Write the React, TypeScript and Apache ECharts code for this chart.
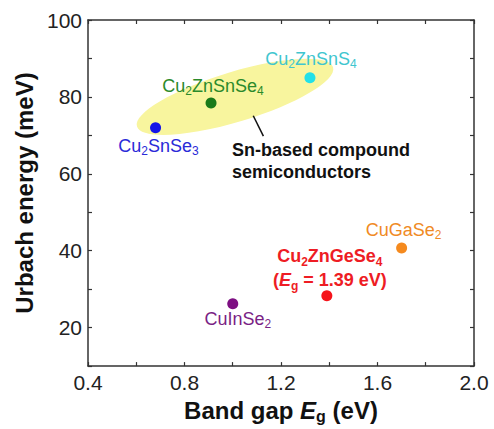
import React, { useEffect, useRef } from "react";
import * as echarts from "echarts";

const compounds = ["Cu2SnSe3", "Cu2ZnSnSe4", "Cu2ZnSnS4", "CuInSe2", "Cu2ZnGeSe4", "CuGaSe2"];
const bandGaps = [0.68, 0.91, 1.32, 1.0, 1.39, 1.7];
const urbachEnergies = [72.0, 78.4, 85.0, 26.2, 28.3, 40.7];
const pointColors = ["#1414e8", "#1a7a1a", "#22e0e8", "#7d0f82", "#f5141b", "#f58a1e"];
const labelColors = ["#2a2ad8", "#2b8a2b", "#3fc6cf", "#7a1f85", "#ee1c24", "#f08a24"];
const labelTexts = [
  "{n|Cu}{s|2}{n|SnSe}{s|3}",
  "{n|Cu}{s|2}{n|ZnSnSe}{s|4}",
  "{n|Cu}{s|2}{n|ZnSnS}{s|4}",
  "{n|CuInSe}{s|2}",
  "{b|Cu}{bs|2}{b|ZnGeSe}{bs|4}\n{b|(}{bi|E}{bs|g}{b| = 1.39 eV)}",
  "{n|CuGaSe}{s|2}",
];

const xTickLabels = ["0.4", "0.8", "1.2", "1.6", "2.0"];
const yTickLabels = ["20", "40", "60", "80", "100"];

// annotation anchors in data coordinates
const ellipseEnds = [
  [0.603, 72.3],
  [1.416, 87.7],
];
const pointerLine = [
  [1.085, 75.1],
  [1.127, 69.8],
];
const noteAnchor = [0.997, 69.0];
const noteText = "Sn-based compound\nsemiconductors";

const FONT = "'Liberation Sans', Arial, Helvetica, sans-serif";

const labelLayouts: any[] = [
  { position: "bottom", distance: 2, offset: [3, 0] },
  { position: "top", distance: 1, offset: [2, 0] },
  { position: "top", distance: 2, offset: [1, 0] },
  { position: "bottom", distance: -1, offset: [5, 0] },
  { position: "top", distance: 0, offset: [3, 2] },
  { position: "top", distance: 2, offset: [2, 0] },
];

function richFor(color: string) {
  return {
    n: { fontSize: 18, lineHeight: 22, color, fontFamily: FONT, verticalAlign: "middle" },
    s: { fontSize: 12, lineHeight: 8, color, fontFamily: FONT, verticalAlign: "bottom" },
    b: { fontSize: 18, lineHeight: 24, color, fontFamily: FONT, fontWeight: "bold", verticalAlign: "middle" },
    bi: { fontSize: 18, lineHeight: 24, color, fontFamily: FONT, fontWeight: "bold", fontStyle: "italic", verticalAlign: "middle" },
    bs: { fontSize: 12, lineHeight: 9, color, fontFamily: FONT, fontWeight: "bold", verticalAlign: "bottom" },
  };
}

export default function App() {
  const ref = useRef<HTMLDivElement>(null);

  useEffect(() => {
    if (!ref.current) return;
    const chart = echarts.init(ref.current, undefined, { renderer: "svg" });

    const axisLine = { show: true, onZero: false, lineStyle: { color: "#333", width: 1.5 } };
    const axisTick = { show: true, inside: true, length: 4, lineStyle: { color: "#333", width: 1.2 } };

    const scatterData = compounds.map((name, i) => ({
      name,
      value: [bandGaps[i], urbachEnergies[i]],
      itemStyle: { color: pointColors[i], opacity: 1 },
      label: {
        show: true,
        formatter: labelTexts[i],
        align: "center",
        rich: richFor(labelColors[i]),
        ...labelLayouts[i],
      },
    }));

    chart.setOption({
      animation: false,
      grid: { left: 88, right: 20, top: 20, bottom: 61 },
      xAxis: [
        {
          type: "value",
          position: "bottom",
          min: 0.4,
          max: 2.0,
          interval: 0.2,
          axisLine,
          axisTick,
          splitLine: { show: false },
          axisLabel: {
            margin: 6,
            fontSize: 21,
            color: "#222",
            fontFamily: FONT,
            formatter: (v: number) => {
              const s = v.toFixed(1);
              return xTickLabels.includes(s) ? s : "";
            },
          },
          name: "{t|Band gap }{ti|E}{ts|g}{t| (eV)}",
          nameLocation: "middle",
          nameGap: 29,
          nameTextStyle: {
            rich: {
              t: { fontSize: 24, fontWeight: "bold", color: "#111", fontFamily: FONT, lineHeight: 28, verticalAlign: "middle" },
              ti: { fontSize: 24, fontWeight: "bold", fontStyle: "italic", color: "#111", fontFamily: FONT, lineHeight: 28, verticalAlign: "middle" },
              ts: { fontSize: 16, fontWeight: "bold", color: "#111", fontFamily: FONT, lineHeight: 11, verticalAlign: "bottom" },
            },
          },
        },
        {
          type: "value",
          position: "top",
          min: 0.4,
          max: 2.0,
          interval: 0.2,
          axisLine,
          axisTick,
          splitLine: { show: false },
          axisLabel: { show: false },
        },
      ],
      yAxis: [
        {
          type: "value",
          position: "left",
          min: 10,
          max: 100,
          interval: 10,
          axisLine,
          axisTick,
          splitLine: { show: false },
          axisLabel: {
            margin: 6,
            fontSize: 21,
            color: "#222",
            fontFamily: FONT,
            formatter: (v: number) => {
              const s = String(Math.round(v));
              return yTickLabels.includes(s) ? s : "";
            },
          },
          name: "Urbach energy (meV)",
          nameLocation: "middle",
          nameGap: 46,
          nameTextStyle: { fontSize: 24, fontWeight: "bold", color: "#111", fontFamily: FONT },
        },
        {
          type: "value",
          position: "right",
          min: 10,
          max: 100,
          interval: 10,
          axisLine,
          axisTick,
          splitLine: { show: false },
          axisLabel: { show: false },
        },
      ],
      series: [
        {
          type: "custom",
          z: 1,
          silent: true,
          data: [[noteAnchor[0], noteAnchor[1]]],
          renderItem: (_params: any, api: any) => {
            const p1 = api.coord(ellipseEnds[0]);
            const p2 = api.coord(ellipseEnds[1]);
            const cx = (p1[0] + p2[0]) / 2;
            const cy = (p1[1] + p2[1]) / 2;
            const dx = p2[0] - p1[0];
            const dy = p2[1] - p1[1];
            const rx = Math.hypot(dx, dy) / 2;
            const rot = Math.atan2(-dy, dx);
            const l1 = api.coord(pointerLine[0]);
            const l2 = api.coord(pointerLine[1]);
            const a = api.coord(noteAnchor);
            return {
              type: "group",
              children: [
                {
                  type: "ellipse",
                  x: cx,
                  y: cy,
                  rotation: rot,
                  shape: { cx: 0, cy: 0, rx, ry: 25 },
                  style: { fill: "#f8f59e" },
                },
                {
                  type: "line",
                  shape: { x1: l1[0], y1: l1[1], x2: l2[0], y2: l2[1] },
                  style: { stroke: "#111", lineWidth: 1.5 },
                },
                {
                  type: "text",
                  x: a[0],
                  y: a[1],
                  style: {
                    text: noteText,
                    fontSize: 18,
                    fontWeight: "bold",
                    fontFamily: FONT,
                    fill: "#111",
                    align: "left",
                    verticalAlign: "top",
                    lineHeight: 22,
                  },
                },
              ],
            };
          },
        },
        {
          type: "scatter",
          z: 3,
          symbol: "circle",
          symbolSize: 11,
          data: scatterData,
        },
      ],
    });

    return () => chart.dispose();
  }, []);

  return (
    <div
      ref={ref}
      style={{ position: "fixed", left: 0, top: 0, width: 494, height: 429, background: "#fff" }}
    />
  );
}
